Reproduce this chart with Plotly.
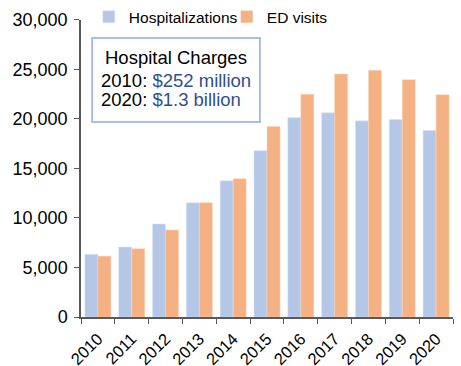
import plotly.graph_objects as go

years = ["2010", "2011", "2012", "2013", "2014", "2015", "2016", "2017", "2018", "2019", "2020"]
hospitalizations = [6330, 7070, 9400, 11530, 13760, 16800, 20150, 20620, 19810, 19950, 18830]
ed_visits = [6150, 6900, 8790, 11530, 13960, 19240, 22500, 24540, 24910, 23970, 22450]

font_family = "Liberation Sans, Arial, sans-serif"
axis_color = "#595959"

fig = go.Figure()
fig.add_trace(go.Bar(x=years, y=hospitalizations, name="Hospitalizations",
                     marker=dict(color="#b4c7e7", line=dict(color="#dde6f4", width=0.5))))
fig.add_trace(go.Bar(x=years, y=ed_visits, name="ED visits",
                     marker=dict(color="#f4b183", line=dict(color="#f9d6bd", width=0.5))))

fig.update_layout(
    width=461, height=366,
    margin=dict(l=81, r=8, t=0, b=49, autoexpand=False),
    paper_bgcolor="white", plot_bgcolor="white",
    font=dict(family=font_family, size=15, color="black"),
    barmode="group", bargap=0.23, bargroupgap=0,
    showlegend=True,
    legend=dict(orientation="h", x=0.021, y=0.946, xanchor="left", yanchor="middle",
                font=dict(size=15.5), bgcolor="rgba(0,0,0,0)",
                itemwidth=30, entrywidth=93, entrywidthmode="pixels", tracegroupgap=0),
    xaxis=dict(type="category", showline=True, linecolor=axis_color, linewidth=1.5,
               ticks="outside", tickson="boundaries", ticklen=5, tickcolor=axis_color,
               tickangle=-45, tickfont=dict(size=16.5), ticklabelstandoff=4, showgrid=False),
    yaxis=dict(range=[0, 30000], dtick=5000, tickformat=",", showline=True,
               domain=[0, 0.937],
               linecolor=axis_color, linewidth=1.5, ticks="outside", ticklen=5,
               tickcolor=axis_color, tickfont=dict(size=18), ticklabelstandoff=3,
               showgrid=False, zeroline=False),
)

fig.add_shape(type="rect", xref="paper", yref="paper",
              x0=0.03, x1=0.481, y0=0.615, y1=0.880,
              line=dict(color="#8faadc", width=1.5), fillcolor="white", layer="above")

fig.add_annotation(xref="paper", yref="paper", x=0.255, y=0.820, xanchor="center", yanchor="middle",
                   text="Hospital Charges", showarrow=False, font=dict(size=18.5, color="black"))
fig.add_annotation(xref="paper", yref="paper", x=0.049, y=0.746, xanchor="left", yanchor="middle",
                   text="2010: <span style='color:#2f4f8f'>$252 million</span>", showarrow=False,
                   font=dict(size=18.5, color="black"))
fig.add_annotation(xref="paper", yref="paper", x=0.049, y=0.685, xanchor="left", yanchor="middle",
                   text="2020: <span style='color:#2f4f8f'>$1.3 billion</span>", showarrow=False,
                   font=dict(size=18.5, color="black"))

fig.write_html("out.html")
